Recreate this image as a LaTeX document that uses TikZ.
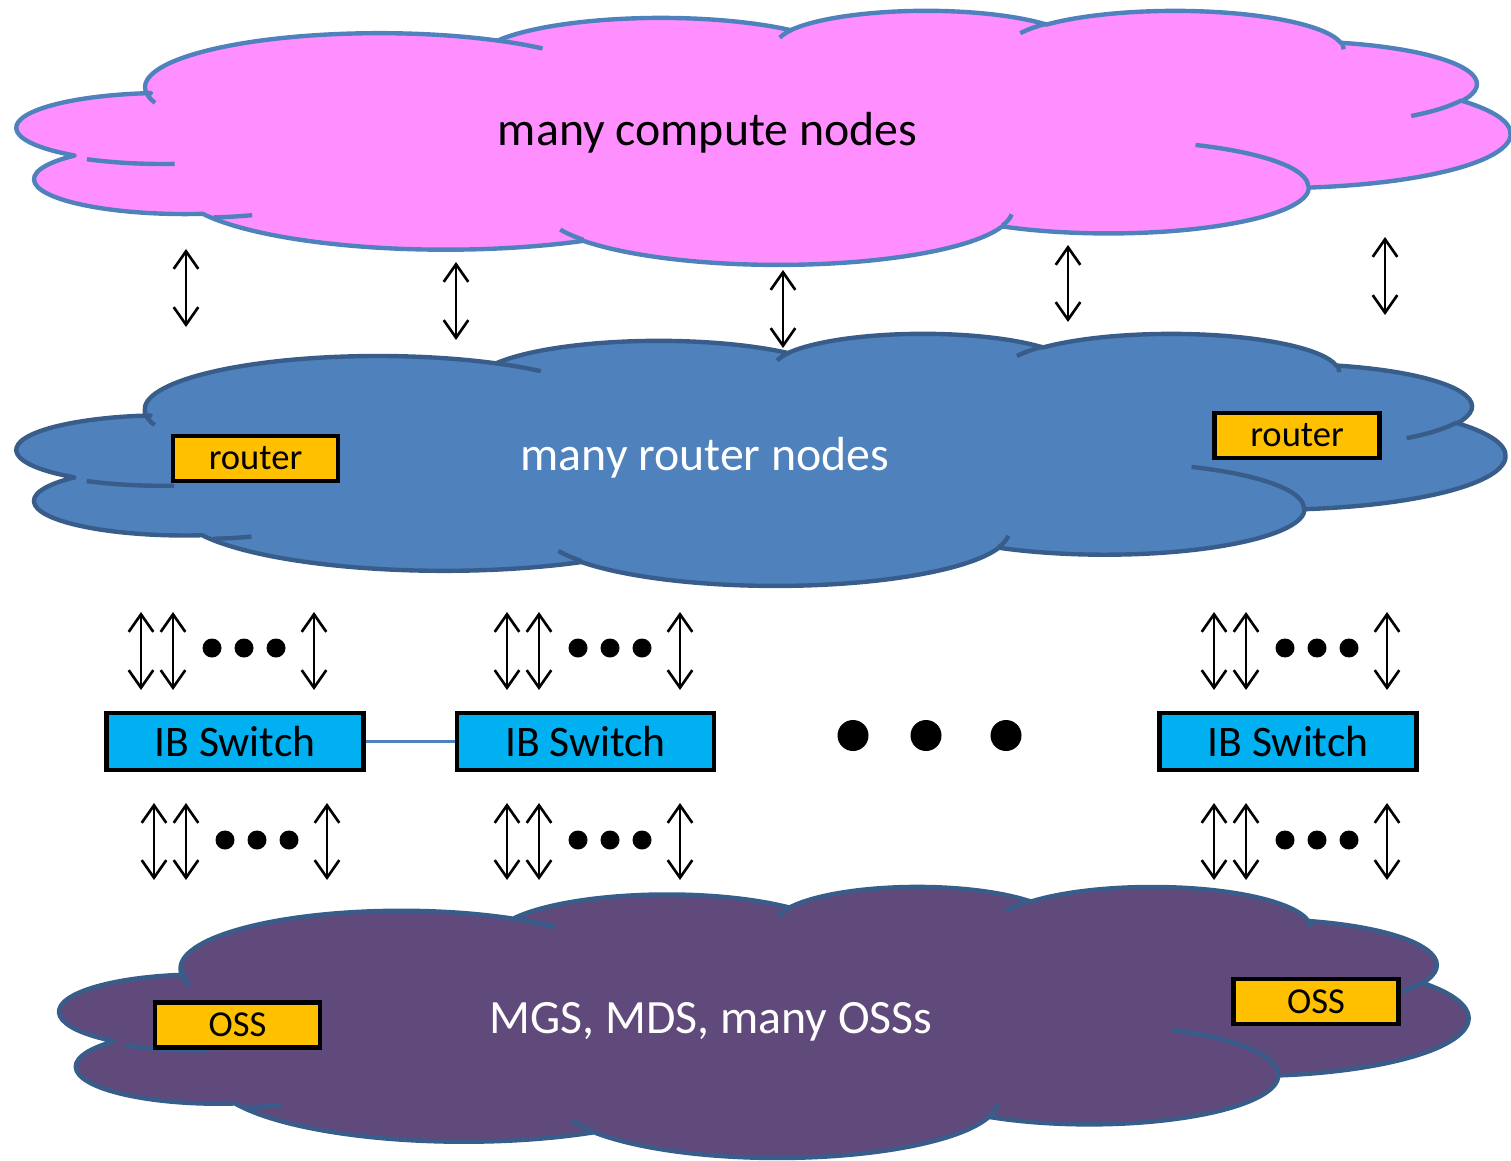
\documentclass[tikz,border=0pt]{standalone}
\usepackage{fontspec}
\setmainfont{Carlito}
\usepackage{tikz}
\usetikzlibrary{arrows.meta}

\definecolor{cpink}{RGB}{255,143,255}
\definecolor{cpinkline}{RGB}{79,129,189}
\definecolor{crouter}{RGB}{79,129,189}
\definecolor{cstore}{RGB}{96,74,123}
\definecolor{cdarkline}{RGB}{56,93,138}
\definecolor{corange}{RGB}{255,192,0}
\definecolor{cib}{RGB}{0,176,240}
\definecolor{clink}{RGB}{79,129,189}

% one lobe of the cloud: x/y radius, start angle and sweep (visual angles)
\newcommand\cloudarc[4]{arc[x radius=#1,y radius=#2,
  start angle={atan2(#1*sin(#3),#2*cos(#3))},
  delta angle={#4+mod(atan2(#1*sin(#3+#4),#2*cos(#3+#4))-atan2(#1*sin(#3),#2*cos(#3))-#4+540,360)-180}]}

% outline of the cloud in a 43.2 x 43.2 frame (y downwards)
\newcommand\cloudpath{(3.9,14.37)
  \cloudarc{6.753}{9.190}{-190.487}{123.781}
  \cloudarc{5.333}{7.267}{-144.102}{89.945}
  \cloudarc{4.365}{5.945}{-145.808}{99.723}
  \cloudarc{4.857}{6.595}{-130.986}{117.242}
  \cloudarc{5.333}{7.273}{-78.709}{109.027}
  \cloudarc{6.775}{9.220}{-46.267}{130.269}
  \cloudarc{5.785}{7.867}{0.625}{114.033}
  \cloudarc{6.752}{9.215}{22.452}{115.173}
  \cloudarc{7.720}{10.543}{66.243}{81.369}
  \cloudarc{4.360}{5.918}{-274.942}{146.734}
  arc[x radius=4.345,y radius=5.945,start angle=127.7,end angle=264] -- cycle}

% short inner arcs between the lobes
\newcommand\cloudstubs{
  (4.693,26.177) \cloudarc{4.345}{5.945}{86.742}{26.430}
  (6.928,34.899) \cloudarc{4.360}{5.918}{73.610}{11.447}
  (16.478,39.090) \cloudarc{6.752}{9.215}{137.624}{14.081}
  (28.827,34.751) \cloudarc{6.752}{9.215}{6.453}{15.998}
  (34.129,22.954) \cloudarc{5.785}{7.867}{-70.292}{70.917}
  (41.798,15.354) \cloudarc{5.333}{7.273}{30.318}{27.752}
  (38.324,5.426) \cloudarc{4.857}{6.595}{-13.744}{14.859}
  (29.078,3.952) \cloudarc{4.857}{6.595}{-149.181}{18.195}
  (22.141,4.720) \cloudarc{4.365}{5.945}{-163.494}{17.686}
  (14.000,5.192) \cloudarc{6.753}{9.190}{-66.707}{12.319}
  (4.127,15.789) \cloudarc{6.753}{9.190}{157.654}{11.858}}

\begin{document}
\begin{tikzpicture}[x=1cm,y=1cm,>={Straight Barb[length=5pt,width=7pt]},
  cloudline/.style={line width=1.25pt,line join=round},
  cloudtext/.style={font=\fontsize{13.6}{16}\selectfont},
  orangebox/.style={draw=black,line width=1.3pt,fill=corange,inner sep=0pt,
    minimum width=1.65cm,minimum height=0.45cm,font=\fontsize{10.4}{12}\selectfont},
  ibswitch/.style={draw=black,line width=1.3pt,fill=cib,inner sep=0pt,
    minimum width=2.57cm,minimum height=0.57cm,font=\fontsize{12.4}{14}\selectfont},
  bigdot/.style={circle,fill=black,inner sep=0pt,minimum size=0.31cm},
  smalldot/.style={circle,fill=black,inner sep=0pt,minimum size=0.19cm},
  biarrow/.style={<->,line width=0.75pt},
  link/.style={draw=clink,line width=0.6pt}]
\useasboundingbox (0,0) rectangle (15.11,11.6);

% Top: compute nodes
\begin{scope}[shift={(0.12,11.50)},x=0.34676cm,y=-0.058796cm]
  \filldraw[cloudline,draw=cpinkline,fill=cpink] \cloudpath;
  \draw[cloudline,draw=cpinkline] \cloudstubs;
\end{scope}
\node[cloudtext] (compute) at (7.075,10.27) {many compute nodes};

% Middle: router nodes
\begin{scope}[shift={(0.12,8.27)},x=0.34560cm,y=-0.058333cm]
  \filldraw[cloudline,draw=cdarkline,fill=crouter] \cloudpath;
  \draw[cloudline,draw=cdarkline] \cloudstubs;
\end{scope}
\node[cloudtext,text=white] (routers) at (7.05,7.02) {many router nodes};
\node[orangebox] (router1) at (2.555,7.015) {router};
\node[orangebox] (router2) at (12.97,7.245) {router};

% Bottom: storage servers
\begin{scope}[shift={(0.55,2.74)},x=0.32708cm,y=-0.062731cm]
  \filldraw[cloudline,draw=cdarkline,fill=cstore] \cloudpath;
  \draw[cloudline,draw=cdarkline] \cloudstubs;
\end{scope}
\node[cloudtext,text=white] (servers) at (7.11,1.38) {MGS, MDS, many OSSs};
\node[orangebox] (oss1) at (2.375,1.35) {OSS};
\node[orangebox] (oss2) at (13.16,1.585) {OSS};

% Arrows compute <-> router
\foreach \x/\yt/\yb [count=\i] in {1.86/9.11/8.33,4.56/8.98/8.20,7.83/8.90/8.12,
    10.68/9.15/8.38,13.85/9.23/8.45}{
  \coordinate (ct\i) at (\x,\yt);
  \coordinate (cb\i) at (\x,\yb);
  \draw[biarrow] (ct\i) -- (cb\i);
}

% IB switches
\node[ibswitch] (sw1) at (2.35,4.185) {IB Switch};
\node[ibswitch] (sw2) at (5.855,4.185) {IB Switch};
\node[ibswitch] (sw3) at (12.88,4.185) {IB Switch};
\draw[link] (sw1) -- (sw2);
\node[bigdot] (more1) at (8.53,4.245) {};
\node[bigdot] (more2) at (9.26,4.245) {};
\node[bigdot] (more3) at (10.06,4.245) {};

% Arrow groups above and below the switches
\foreach \a/\yt/\yb/\yd [count=\i] in {1.41/5.48/4.70/5.12,5.07/5.48/4.70/5.12,
    12.14/5.48/4.70/5.12,1.54/3.57/2.80/3.20,5.07/3.57/2.80/3.20,12.14/3.57/2.80/3.20}{
  \foreach \dx [count=\j] in {0,0.32,1.73}{
    \coordinate (g\i t\j) at (\a+\dx,\yt);
    \coordinate (g\i b\j) at (\a+\dx,\yb);
    \draw[biarrow] (g\i t\j) -- (g\i b\j);
  }
  \foreach \dx [count=\j] in {0.71,1.03,1.35}
    \node[smalldot] (g\i d\j) at (\a+\dx,\yd) {};
}
\end{tikzpicture}
\end{document}
